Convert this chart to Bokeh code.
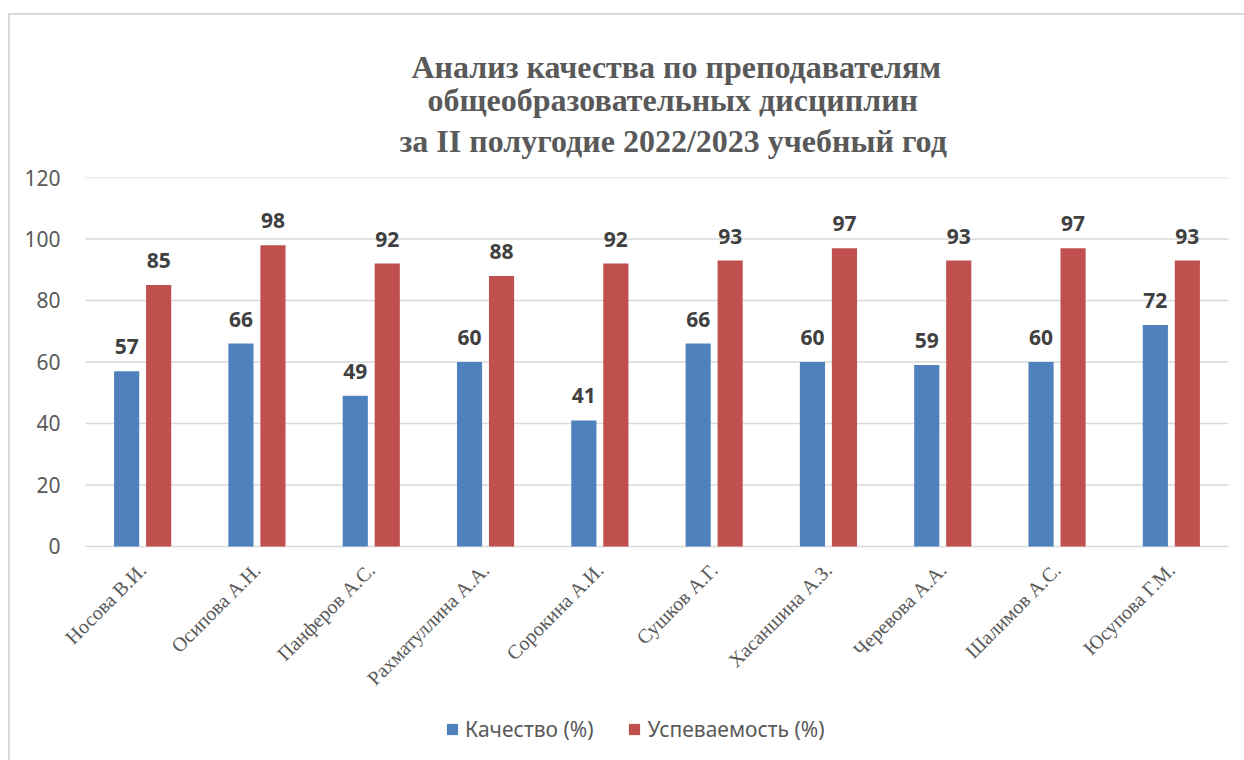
import math
import numpy as np
from bokeh.plotting import figure
from bokeh.models import (Range1d, ColumnDataSource, LabelSet,
                          Legend, LegendItem, FixedTicker, Title)
from bokeh.core.properties import value
from bokeh.transform import dodge
from bokeh.embed import file_html
from bokeh.resources import INLINE

teachers = ["Носова В.И.", "Осипова А.Н.", "Панферов А.С.", "Рахматуллина А.А.",
            "Сорокина А.И.", "Сушков А.Г.", "Хасаншина А.З.", "Черевова А.А.",
            "Шалимов А.С.", "Юсупова Г.М."]
quality = [57, 66, 49, 60, 41, 66, 60, 59, 60, 72]
progress = [85, 98, 92, 88, 92, 93, 97, 93, 97, 93]
series_names = ["Качество (%)", "Успеваемость (%)"]
y_ticks = [0, 20, 40, 60, 80, 100, 120]
title_lines = ["Анализ качества по преподавателям",
               "общеобразовательных дисциплин",
               "за II полугодие 2022/2023 учебный год"]

BLUE = "#4F81BD"
RED = "#C0504D"
GRID = "#D9D9D9"
TXT = "#595959"

n = len(teachers)
src = ColumnDataSource(dict(
    x=np.arange(n) + 0.5, teacher=teachers, quality=quality, progress=progress,
    base=[0] * n,
    ql=[str(v) for v in quality], pl=[str(v) for v in progress]))
grid_src = ColumnDataSource(dict(y=y_ticks, x0=[0] * len(y_ticks),
                                 x1=[n] * len(y_ticks)))

# frame spans from the category area (with room on the left for the rotated
# labels) down to the bottom of the chart, so labels and legend sit inside it
p = figure(width=1244, height=760,
           x_range=Range1d(-0.2187, n),
           y_range=Range1d(-69.6, 120),
           output_backend="svg", toolbar_location=None,
           min_border_left=60, min_border_right=16,
           min_border_top=177, min_border_bottom=0)
p.border_fill_color = None
p.background_fill_color = "white"
p.styles = {"box-shadow": "inset 8px 13px 0 0 #FFFFFF, inset 10px 15px 0 0 #D9D9D9"}

p.segment(x0="x0", x1="x1", y0="y", y1="y", source=grid_src,
          line_color=GRID, line_width=1.5)

r1 = p.vbar(x=dodge("x", -0.14), top="quality", width=0.22,
            source=src, fill_color=BLUE, line_color=None)
r2 = p.vbar(x=dodge("x", 0.14), top="progress", width=0.22,
            source=src, fill_color=RED, line_color=None)

for field, lab, off in (("quality", "ql", -0.14), ("progress", "pl", 0.14)):
    ls = LabelSet(x=dodge("x", off), y=field, text=lab,
                  source=src, y_offset=17, text_align="center", text_baseline="bottom",
                  text_font=value("Noto Sans"), text_font_style="bold",
                  text_font_size="21px", text_color="#404040")
    p.add_layout(ls)

# category labels (rotated 45°)
cat_labels = LabelSet(x="x", y="base", text="teacher", source=src,
                      angle=math.pi / 4, x_offset=0, y_offset=-20,
                      text_align="right", text_baseline="middle",
                      text_font=value("Liberation Serif"), text_font_size="20px",
                      text_color=TXT)
p.add_layout(cat_labels)

# title: three lines; p.title is outermost, added titles stack outward
p.title.text = title_lines[0]
t3 = Title(text=title_lines[2])
p.add_layout(t3, "above")
t2 = Title(text=title_lines[1])
p.add_layout(t2, "above")
for t, off, so in ((p.title, 351, 22), (t2, 367, -32), (t3, 339, 38)):
    t.align = "left"
    t.offset = off
    t.standoff = so
    t.text_font = "Liberation Serif"
    t.text_font_style = "bold"
    t.text_font_size = "32px"
    t.text_color = TXT

p.xgrid.visible = False
p.ygrid.visible = False
p.outline_line_color = None
p.xaxis.visible = False

p.yaxis.ticker = FixedTicker(ticks=y_ticks)
p.yaxis.axis_line_color = None
p.yaxis.major_tick_line_color = None
p.yaxis.minor_tick_line_color = None
p.yaxis.major_tick_out = 0
p.yaxis.major_label_text_font = "Noto Sans"
p.yaxis.major_label_text_font_size = "21px"
p.yaxis.major_label_text_color = TXT
p.yaxis.major_label_standoff = 0

legend = Legend(items=[LegendItem(label=series_names[0], renderers=[r1]),
                       LegendItem(label=series_names[1], renderers=[r2])],
                orientation="horizontal", location=(385, 17),
                border_line_color=None, background_fill_alpha=0,
                label_text_font="Noto Sans", label_text_font_size="21px",
                label_text_color=TXT, glyph_width=14, glyph_height=14,
                spacing=34, label_standoff=6, margin=0, padding=8)
p.add_layout(legend)

open("out.html", "w").write(file_html(p, INLINE))
